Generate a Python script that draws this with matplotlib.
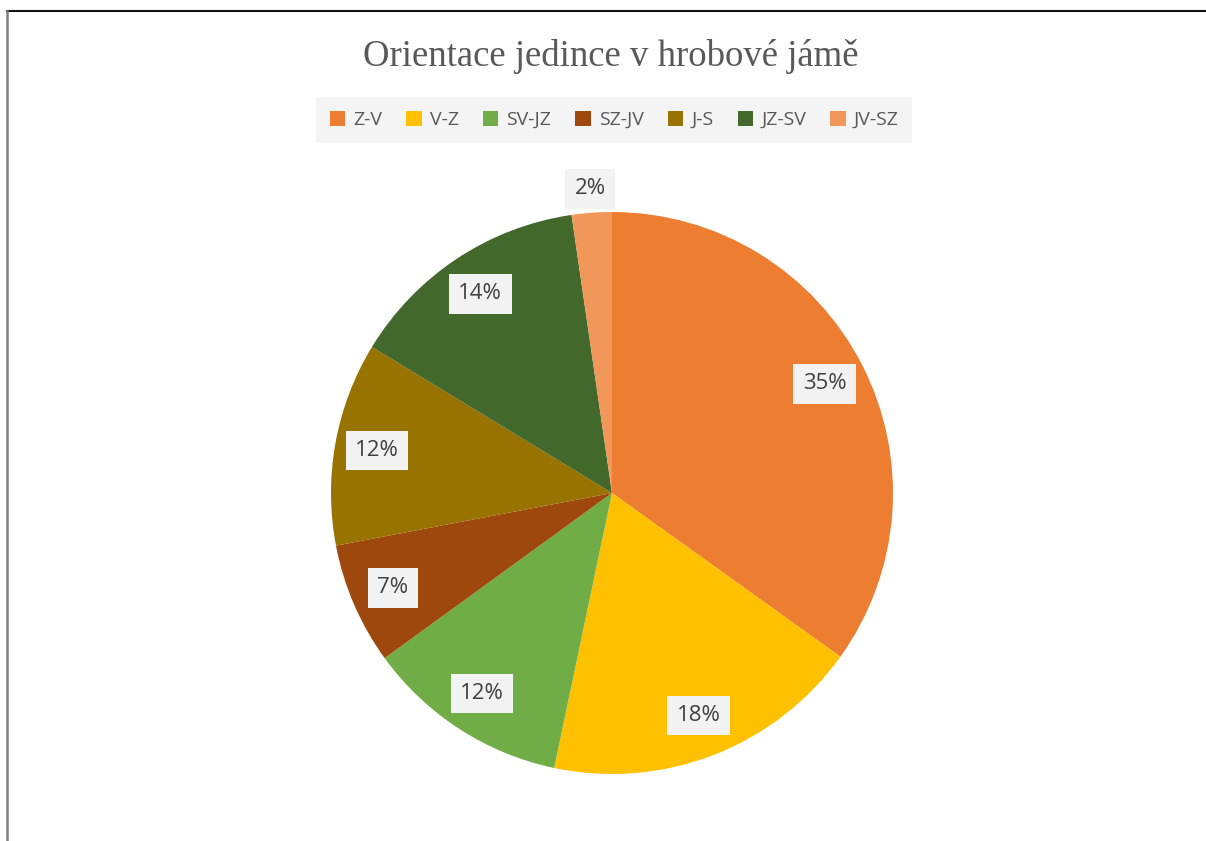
import numpy as np
import matplotlib.pyplot as plt
from matplotlib.patches import Patch
from matplotlib.lines import Line2D

# Orientation shares (% of burials)
labels = ['Z-V', 'V-Z', 'SV-JZ', 'SZ-JV', 'J-S', 'JZ-SV', 'JV-SZ']
shares = [34.9, 18.4, 11.7, 7.0, 11.7, 14.0, 2.3]
colors = ['#ED7D31', '#FFC000', '#70AD47', '#9E480E', '#997300', '#43682B', '#F1975A']

W, H = 1206, 841
fig = plt.figure(figsize=(W / 100, H / 100), dpi=100)

# pie axes: center (612, 493), radius ~281 px
r = 281
cx, cy = 612, 493
ax = fig.add_axes([(cx - r) / W, 1 - (cy + r) / H, 2 * r / W, 2 * r / H])
wedges, _ = ax.pie(shares, colors=colors, startangle=90, counterclock=False,
                   radius=1, wedgeprops=dict(linewidth=0))
ax.set_xlim(-1, 1)
ax.set_ylim(-1, 1)
ax.set_aspect('equal')
ax.axis('off')

# percentage labels with light boxes
total = sum(shares)
for w, s in zip(wedges, shares):
    mid = np.deg2rad((w.theta1 + w.theta2) / 2)
    pct = s / total
    dist = 1.085 if pct < 0.05 else 0.85
    ax.text(dist * np.cos(mid), dist * np.sin(mid), f'{pct:.0%}',
            ha='center', va='center', fontsize=16, family='Open Sans',
            color='#404040',
            bbox=dict(boxstyle='square,pad=0.42', facecolor='#F2F2F2', edgecolor='none'))

fig.text(611 / W, 1 - 57 / H, 'Orientace jedince v hrobové jámě', ha='center', va='center',
         fontsize=26.5, family='Liberation Serif', color='#595959')

handles = [Patch(facecolor=col, edgecolor='none') for col in colors]
leg = fig.legend(handles, labels, loc='center', bbox_to_anchor=(614 / W, 1 - 120 / H),
                 ncol=7, frameon=True, fancybox=False, handlelength=0.8, handleheight=0.8,
                 handletextpad=0.4, columnspacing=1.25, borderpad=0.7,
                 prop={'family': 'Open Sans', 'size': 14})
leg.get_frame().set_facecolor('#F2F2F2')
leg.get_frame().set_edgecolor('none')
for t in leg.get_texts():
    t.set_color('#595959')

# chart border
fig.add_artist(Line2D([7 / W, 1], [1 - 11 / H, 1 - 11 / H], color='#111111', lw=1.5))
fig.add_artist(Line2D([7 / W, 7 / W], [0, 1 - 11 / H], color='#808080', lw=1.8))

plt.savefig('out.png', dpi=100)
